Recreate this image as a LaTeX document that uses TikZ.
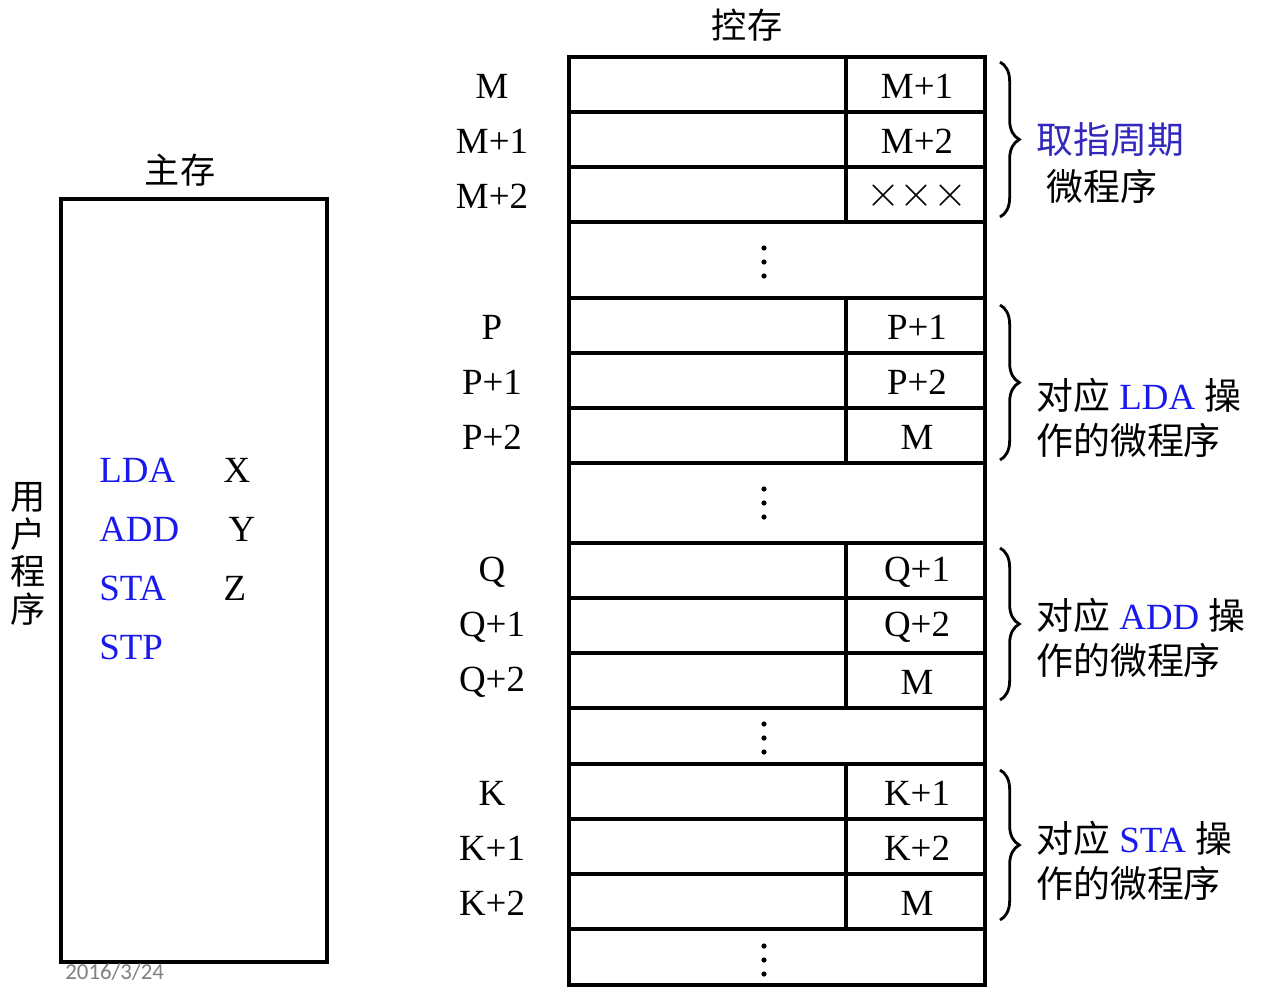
\documentclass[tikz,border=0pt]{standalone}
\usepackage{fontspec}
\usepackage{tikz}
\usepackage{xcolor}
\usetikzlibrary{decorations.pathreplacing}
\setmainfont{Liberation Serif}
\newfontfamily\cjk{Noto Sans CJK SC}
\newfontfamily\datefont{Carlito}
\definecolor{instrblue}{RGB}{25,25,235}
\definecolor{fetchblue}{RGB}{50,40,190}
\definecolor{dategray}{RGB}{128,128,128}
\newcommand{\zh}[1]{{\cjk #1}}
\newcommand{\xmark}{{\fontsize{30}{30}\selectfont$\times$$\times$$\times$}}

\begin{document}
\begin{tikzpicture}[
  x=0.02cm, y=-0.02cm,
  frame/.style={line width=2.2pt},
  lbl/.style={font=\fontsize{21}{24}\selectfont, inner sep=0pt},
  inslbl/.style={lbl, text=instrblue},
  zhlbl/.style={font=\cjk\fontsize{20}{24}\selectfont, inner sep=0pt},
  notelbl/.style={lbl, anchor=west},
  membrace/.style={decorate, decoration={brace, amplitude=11pt}, line width=1.6pt},
]
\useasboundingbox (0,0) rectangle (1262,998);

% Main store
\draw[frame] (61,199) rectangle (327,962);
\node[zhlbl] (mainttl) at (180,170) {主存};
\node[zhlbl, align=center, font=\cjk\fontsize{20}{21.5}\selectfont] (userprog) at (28,554) {用\\户\\程\\序};
\node[inslbl, anchor=west] (lda) at (99,470) {LDA};
\node[inslbl, anchor=west] (add) at (99,529) {ADD};
\node[inslbl, anchor=west] (sta) at (99,588) {STA};
\node[inslbl, anchor=west] (stp) at (99,647) {STP};
\node[lbl] (opx) at (237,470) {X};
\node[lbl] (opy) at (242,529) {Y};
\node[lbl] (opz) at (235,588) {Z};
\node[anchor=west, inner sep=0pt, text=dategray, font=\datefont\fontsize{13}{15}\selectfont] (date) at (65,972) {2016/3/24};

% Control store
\node[zhlbl] (ctrlttl) at (747,25) {控存};
\draw[frame] (569,57) rectangle (985,985);
\foreach \t/\n/\a/\b/\c in {57/M/M+1/M+2/\xmark, 298/P/P+1/P+2/M, 543/Q/Q+1/Q+2/M, 764/K/K+1/K+2/M}{
  \foreach \k in {0,1,2,3}
    \draw[frame] (569,\t+55*\k) -- (985,\t+55*\k);
  \draw[frame] (846,\t) -- (846,\t+165);
  \node[lbl] (adr\n0) at (492,\t+29) {\n};
  \node[lbl] (adr\n1) at (492,\t+84) {\n+1};
  \node[lbl] (adr\n2) at (492,\t+139) {\n+2};
  \node[lbl] (nxt\n0) at (917,\t+29) {\a};
  \node[lbl] (nxt\n1) at (917,\t+84) {\b};
  \node[lbl] (nxt\n2) at (917,\t+139) {\c};
}
% vertical dots in the gaps
\foreach \y in {262,503,738,960}
  \foreach \d in {-14,0,14}
    \fill (764,\y+\d) circle (2.6);

% Braces and notes
\draw[membrace] (1000,62) -- (1000,217);
\draw[membrace] (1000,305) -- (1000,460);
\draw[membrace] (1000,548) -- (1000,700);
\draw[membrace] (1000,770) -- (1000,920);

\node[notelbl, text=fetchblue] (fetch1) at (1036,140) {\zh{取指周期}};
\node[notelbl] (fetch2) at (1046,186) {\zh{微程序}};
\node[notelbl] (ldanote1) at (1036,395) {\zh{对应} \textcolor{instrblue}{LDA} \zh{操}};
\node[notelbl] (ldanote2) at (1036,440) {\zh{作的微程序}};
\node[notelbl] (addnote1) at (1036,615) {\zh{对应} \textcolor{instrblue}{ADD} \zh{操}};
\node[notelbl] (addnote2) at (1036,660) {\zh{作的微程序}};
\node[notelbl] (stanote1) at (1036,838) {\zh{对应} \textcolor{instrblue}{STA} \zh{操}};
\node[notelbl] (stanote2) at (1036,883) {\zh{作的微程序}};
\end{tikzpicture}
\end{document}
